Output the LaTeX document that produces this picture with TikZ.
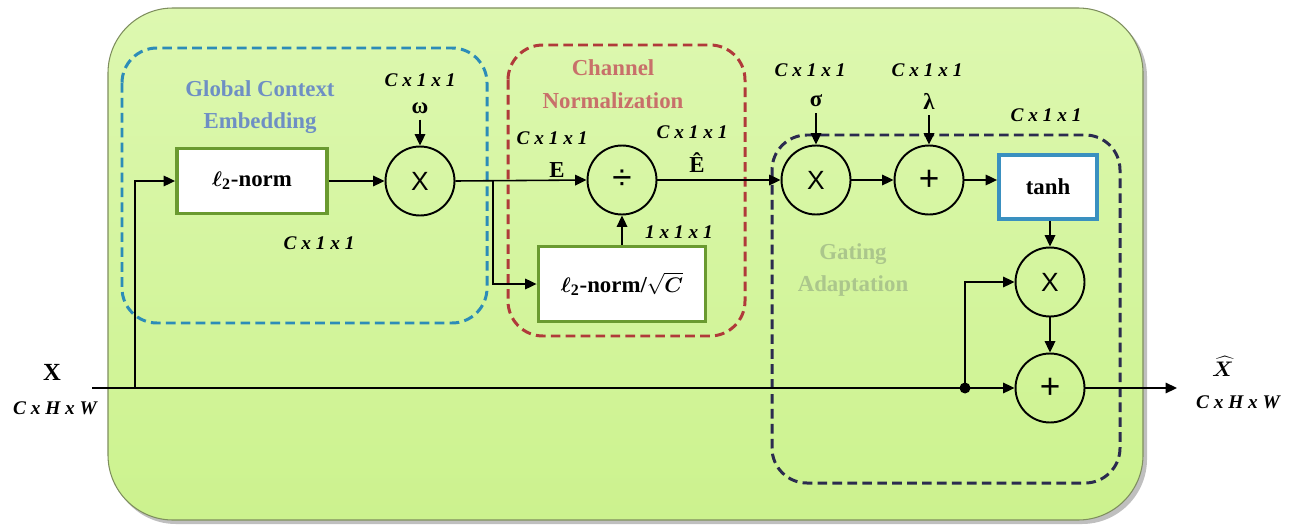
\documentclass[tikz,border=0pt]{standalone}
\usepackage{fontspec}
\setmainfont{Liberation Serif}
\newfontfamily\sansf{Liberation Sans}
\usepackage{bm}
\usetikzlibrary{arrows.meta}
\definecolor{bgtop}{HTML}{DDF8B0}
\definecolor{bgbot}{HTML}{CCF28E}
\definecolor{bgborder}{HTML}{7E8E5E}
\definecolor{gcblue}{HTML}{2C8CB8}
\definecolor{gctext}{HTML}{6E8FC4}
\definecolor{cnred}{HTML}{B03A3A}
\definecolor{cntext}{HTML}{C8706A}
\definecolor{ganavy}{HTML}{2B2B4F}
\definecolor{gatext}{HTML}{ABC68C}
\definecolor{boxgreen}{HTML}{6A9A30}
\definecolor{tanhblue}{HTML}{3A90C0}
\begin{document}
\begin{tikzpicture}[x=0.02cm,y=-0.02cm,
  line/.style={line width=0.9pt},
  conn/.style={line width=0.9pt,-{Triangle[length=6.5pt,width=6pt]}},
  op/.style={circle,draw,line width=1.1pt,minimum size=1.38cm,inner sep=0pt,font=\sansf\fontsize{15}{15}\selectfont},
  bigop/.style={op,font=\sansf\fontsize{20}{20}\selectfont},
  dimlab/.style={font=\rmfamily\bfseries\itshape\fontsize{11}{12}\selectfont},
  grouplab/.style={font=\rmfamily\bfseries\fontsize{13}{18.5}\selectfont,align=center},
  greenbox/.style={draw=boxgreen,line width=2.2pt,fill=white,inner sep=0pt,font=\rmfamily\bfseries\fontsize{13}{14}\selectfont},
  bluebox/.style={draw=tanhblue,line width=2.2pt,fill=white,inner sep=0pt,font=\rmfamily\bfseries\fontsize{13}{14}\selectfont},
  groupbox/.style={line width=1.7pt,dash pattern=on 5.5pt off 3pt,rounded corners=0.7cm},
  symlab/.style={font=\rmfamily\bfseries\fontsize{13}{14}\selectfont}
]
\useasboundingbox (0,0) rectangle (1290,527);
% background
\fill[black!25,rounded corners=1.3cm] (111,12) rectangle (1147,524);
\draw[bgborder,line width=0.6pt,top color=bgtop,bottom color=bgbot,rounded corners=1.3cm] (108,8) rectangle (1143,520);

% group boxes
\draw[groupbox,draw=gcblue] (122,48) rectangle (487,323);
\draw[groupbox,draw=cnred] (508,45) rectangle (745,336);
\draw[groupbox,draw=ganavy] (772,135) rectangle (1120,483);

% group labels
\node[grouplab,text=gctext] (gce) at (260,107) {Global Context\\Embedding};
\node[grouplab,text=cntext] (cn) at (613,84) {Channel\\Normalization};
\node[grouplab,text=gatext] (ga) at (853,270) {Gating\\Adaptation};

% nodes
\node[greenbox,minimum width=3cm,minimum height=1.3cm] (l2) at (252,181) {$\bm{\ell}$\textsubscript{2}-norm};
\node[op] (m1) at (420,181) {X};
\node[bigop] (div) at (622,180) {÷};
\node[greenbox,minimum width=3.34cm,minimum height=1.5cm] (l2c) at (622,284) {$\bm{\ell}$\textsubscript{2}-norm/$\sqrt{\bm{C}}$};
\node[op] (m2) at (816,180) {X};
\node[bigop] (a1) at (929,180) {+};
\node[bluebox,minimum width=1.96cm,minimum height=1.28cm] (tanh) at (1048,187) {tanh};
\node[op] (m3) at (1050,282) {X};
\node[bigop] (a2) at (1050,388) {+};

% coordinates
\coordinate (xin) at (92,388);
\coordinate (br) at (135,388);
\coordinate (br2) at (493,181);
\coordinate (dot) at (965,388);
\coordinate (xout) at (1177,388);

% parameter labels
\node[symlab] (w) at (420,108) {ω};
\node[symlab] (s) at (816,101) {σ};
\node[symlab] (l) at (929,101) {λ};
\node[symlab] (E) at (557,170) {E};
\node[symlab] (Eh) at (697,163) {\^{E}};
\node[font=\rmfamily\bfseries\fontsize{14}{14}\selectfont] (X) at (52,372) {X};
\node[dimlab] (dX) at (55,408) {C x H x W};
\node[symlab,inner sep=0pt] (Xh) at (1223,366) {$\bm{\widehat{X}}$};
\node[dimlab,inner sep=1pt] (dXh) at (1238,402) {C x H x W};

% dim labels
\node[dimlab] (d1) at (420,80) {C x 1 x 1};
\node[dimlab] (d2) at (319,243) {C x 1 x 1};
\node[dimlab] (d3) at (552,138) {C x 1 x 1};
\node[dimlab] (d4) at (692,132) {C x 1 x 1};
\node[dimlab] (d5) at (679,232) {1 x 1 x 1};
\node[dimlab] (d6) at (810,70) {C x 1 x 1};
\node[dimlab] (d7) at (927,70) {C x 1 x 1};
\node[dimlab] (d8) at (1046,115) {C x 1 x 1};

% connectors
\draw[line] (xin) -- (dot);
\draw[conn] (dot) -- (a2);
\fill (dot) circle (0.11cm);
\draw[conn] (br) |- (l2.west);
\draw[conn] (l2) -- (m1);
\draw[conn] (w) -- (m1);
\draw[conn] (m1.east) -- (div.west);
\draw[conn] (br2) |- (l2c.west);
\draw[conn] (l2c) -- (div);
\draw[conn] (div) -- (m2);
\draw[conn] (s) -- (m2);
\draw[conn] (m2) -- (a1);
\draw[conn] (l) -- (a1);
\draw[conn] (a1.east) -- (a1.east -| tanh.west);
\draw[conn] (tanh.south -| m3) -- (m3);
\draw[conn] (dot) |- (m3.west);
\draw[conn] (m3) -- (a2);
\draw[conn] (a2) -- (xout);
\end{tikzpicture}
\end{document}
